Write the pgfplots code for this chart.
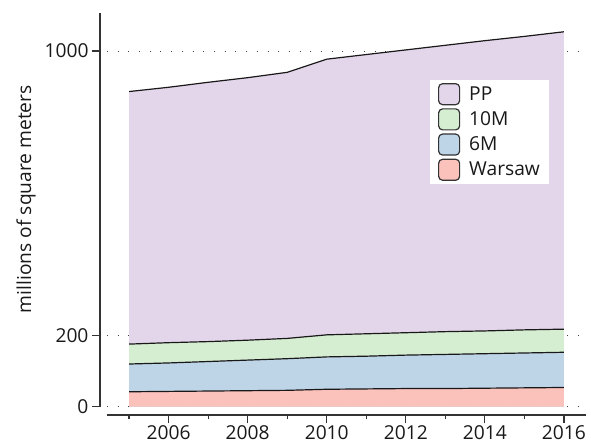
\documentclass[border=0pt]{standalone}
\usepackage{fontspec}
\setmainfont{Open Sans}
\usepackage{pgfplots}
\pgfplotsset{compat=1.18}
\usepackage{pgfplotstable}

\definecolor{ppfill}{RGB}{228,214,234}
\definecolor{tenfill}{RGB}{213,237,209}
\definecolor{sixfill}{RGB}{190,213,232}
\definecolor{warfill}{RGB}{251,193,187}
\definecolor{axisgray}{RGB}{51,51,51}

% floor space by region, millions of square meters
\pgfplotstableread{
year warsaw six ten pp
2005 42 78 56 710
2006 43 80 57 718
2007 44 83 56 729
2008 45 86 56 738
2009 46 89 57 748
2010 49 91 62 775
2011 50 92 63 785
2012 51 94 63 795
2013 51 96 64 805
2014 52 97 64 816
2015 53 98 65 825
2016 54 99 65 836
}\floorspace

\newcommand{\chartfont}{\fontsize{19.2}{21.5}\selectfont}

\begin{document}
\begin{tikzpicture}
\path[use as bounding box] (-107pt,-39.3pt) rectangle (484pt,406.7pt);
\begin{axis}[
  at={(0pt,0pt)}, anchor=south west,
  x=39.52pt, y=0.3557pt,
  xmin=2004.44, xmax=2016.56, ymin=0, ymax=1107,
  axis x line=bottom, axis y line=left,
  axis line style={-, draw=axisgray, line width=1.3pt},
  axis x line shift=8.3pt, axis y line shift=7pt,
  xtick={2006,2008,...,2016},
  minor xtick={2005,2007,...,2015},
  ytick={0,200,1000},
  tick align=outside,
  major tick length=8.5pt, minor tick length=4.5pt,
  tick style={draw=axisgray, line width=1.3pt},
  ymajorgrids,
  major grid style={draw=black!75, line width=0.9pt, dash pattern=on 0.9pt off 9.8pt},
  tick label style={font=\chartfont, text=black!90},
  xticklabel style={yshift=1.5pt},
  yticklabel style={xshift=0.5pt},
  /pgf/number format/1000 sep={},
  /pgf/number format/assume math mode=true,
  ylabel={millions of square meters},
  every axis y label/.style={at={(axis description cs:-0.169,0.527)}, rotate=90, anchor=center, font=\chartfont, text=black!90},
  legend style={at={(0.674,0.830)}, anchor=north west, draw=none, fill=white,
    inner xsep=8pt, inner ysep=3pt, row sep=3pt, font=\chartfont,
    nodes={inner sep=1pt, text=black!90},
    /tikz/every odd column/.append style={column sep=8pt},
    cells={anchor=west}},
  legend image code/.code={\draw[#1, draw=axisgray, line width=1.2pt, rounded corners=4pt] (0pt,-10.5pt) rectangle (21pt,10.5pt);},
]
% filled bands, painted from the total downwards
\addplot[fill=ppfill, draw=none, forget plot] table[x=year, y expr=\thisrow{warsaw}+\thisrow{six}+\thisrow{ten}+\thisrow{pp}] {\floorspace} \closedcycle;
\addplot[fill=tenfill, draw=none, forget plot] table[x=year, y expr=\thisrow{warsaw}+\thisrow{six}+\thisrow{ten}] {\floorspace} \closedcycle;
\addplot[fill=sixfill, draw=none, forget plot] table[x=year, y expr=\thisrow{warsaw}+\thisrow{six}] {\floorspace} \closedcycle;
\addplot[fill=warfill, draw=none, forget plot] table[x=year, y=warsaw] {\floorspace} \closedcycle;
% upper edge of each band
\addplot[black!90, line width=1.2pt, forget plot] table[x=year, y expr=\thisrow{warsaw}+\thisrow{six}+\thisrow{ten}+\thisrow{pp}] {\floorspace};
\addplot[black!90, line width=1.2pt, forget plot] table[x=year, y expr=\thisrow{warsaw}+\thisrow{six}+\thisrow{ten}] {\floorspace};
\addplot[black!90, line width=1.2pt, forget plot] table[x=year, y expr=\thisrow{warsaw}+\thisrow{six}] {\floorspace};
\addplot[black!90, line width=1.2pt, forget plot] table[x=year, y=warsaw] {\floorspace};
\addlegendimage{fill=ppfill}\addlegendentry{PP}
\addlegendimage{fill=tenfill}\addlegendentry{10M}
\addlegendimage{fill=sixfill}\addlegendentry{6M}
\addlegendimage{fill=warfill}\addlegendentry{Warsaw}
\end{axis}
\end{tikzpicture}
\end{document}
